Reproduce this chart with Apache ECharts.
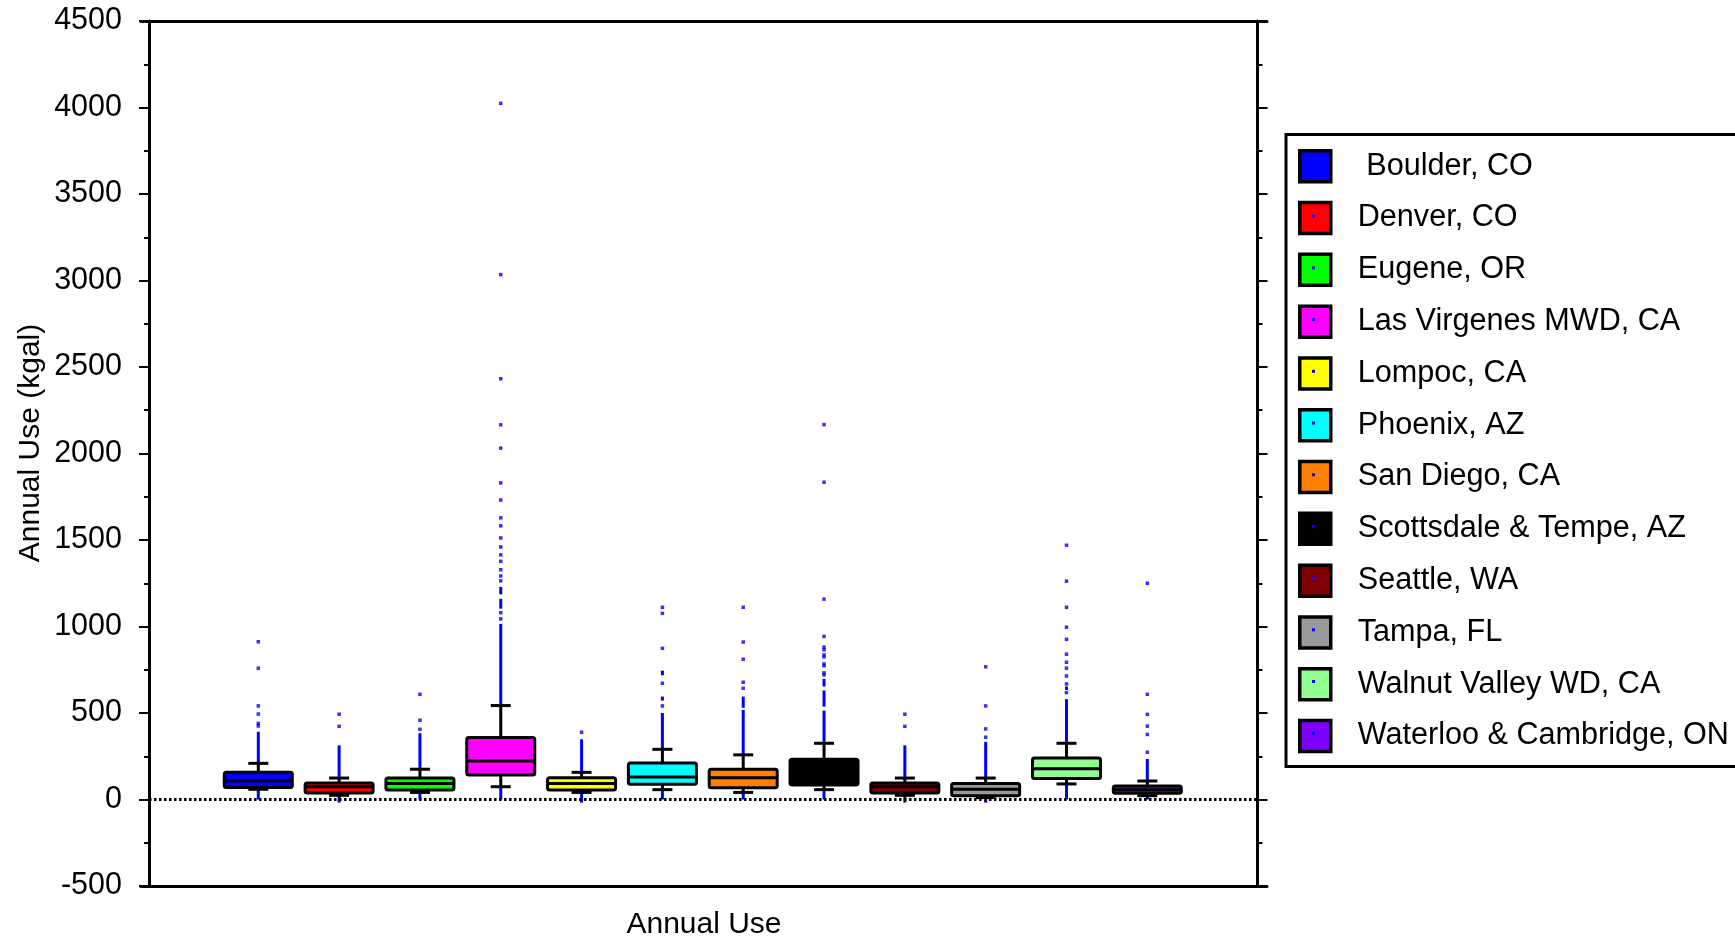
<!DOCTYPE html>
<html>
<head>
<meta charset="utf-8">
<title>Annual Use</title>
<script src="https://cdn.jsdelivr.net/npm/echarts@6/dist/echarts.min.js"></script>
<style>
  html, body { margin: 0; padding: 0; background: #fff; }
  #chart { width: 1735px; height: 941px; }
</style>
</head>
<body>
<div id="chart"></div>
<script>
// cities, in plot order
const cities = [' Boulder, CO', 'Denver, CO', 'Eugene, OR', 'Las Virgenes MWD, CA', 'Lompoc, CA',
  'Phoenix, AZ', 'San Diego, CA', 'Scottsdale & Tempe, AZ', 'Seattle, WA', 'Tampa, FL',
  'Walnut Valley WD, CA', 'Waterloo & Cambridge, ON']

// box statistics (kgal)
const whiskerLow  = [59, 24, 41, 74, 41, 57, 41, 57, 24, 11, 90, 22]
const q1          = [70, 38, 55, 142, 55, 88, 68, 84, 38, 22, 122, 36]
const median      = [109, 74, 92, 223, 92, 130, 126, 148, 74, 59, 178, 57]
const q3          = [157, 95, 124, 358, 126, 211, 175, 233, 95, 92, 240, 78]
const whiskerHigh = [209, 124, 175, 543, 157, 290, 258, 325, 124, 124, 325, 107]

// outliers: single points
const outlierDots = [
  [425, 440, 494, 541, 759, 912],
  [423, 493],
  [406, 458, 608],
  [1044, 1080, 1264, 1292, 1328, 1377, 1414, 1460, 1512, 1582, 1628, 1731, 1830, 2031, 2166, 2432, 3034, 4024],
  [389],
  [541, 672, 874, 1076, 1111],
  [643, 678, 811, 910, 1111],
  [720, 732, 773, 784, 824, 836, 865, 881, 943, 1158, 1834, 2167],
  [423, 493],
  [360, 408, 541, 767],
  [618, 668, 714, 759, 793, 840, 926, 996, 1111, 1262, 1470],
  [273, 376, 424, 492, 608, 1250]
]

// outliers packed so densely they read as a solid run [from, to]
const outlierRuns = [
  [[0, 59], [212, 392]],
  [[-18, 24], [126, 313]],
  [[0, 41], [177, 383]],
  [[0, 74], [545, 1015], [1103, 1160], [1186, 1229]],
  [[-18, 41], [159, 348]],
  [[0, 57], [292, 500], [572, 595], [718, 745]],
  [[0, 41], [260, 518], [530, 595]],
  [[0, 57], [327, 514], [537, 630], [653, 697]],
  [[-18, 24], [126, 313]],
  [[-18, 11], [126, 333]],
  [[0, 90], [327, 580], [633, 653]],
  [[0, 22], [109, 234]]
]

const palette = ['#0000ff', '#ff0000', '#00ff00', '#ff00ff', '#ffff00', '#00ffff',
  '#ff8000', '#000000', '#800000', '#999999', '#90ff90', '#8000ff']

const FONT = "'Liberation Sans', Arial, sans-serif"

const chart = echarts.init(document.getElementById('chart'))

// one box with whiskers, drawn from the value scale
const renderBox = (params, api) => {
  const x = api.value(0)
  const pLow = api.coord([x, api.value(1)])
  const yQ1 = api.coord([x, api.value(2)])[1]
  const yMed = api.coord([x, api.value(3)])[1]
  const yQ3 = api.coord([x, api.value(4)])[1]
  const yHigh = api.coord([x, api.value(5)])[1]
  const cx = pLow[0]
  const yLow = pLow[1]
  const half = 34
  const cap = 10
  const ink = { stroke: '#000', lineWidth: 3 }
  return {
    type: 'group',
    children: [
      { type: 'line', shape: { x1: cx, y1: yLow, x2: cx, y2: yQ1 }, style: ink },
      { type: 'line', shape: { x1: cx, y1: yQ3, x2: cx, y2: yHigh }, style: ink },
      { type: 'line', shape: { x1: cx - cap, y1: yLow, x2: cx + cap, y2: yLow }, style: ink },
      { type: 'line', shape: { x1: cx - cap, y1: yHigh, x2: cx + cap, y2: yHigh }, style: ink },
      {
        type: 'rect',
        shape: { x: cx - half, y: yQ3, width: half * 2, height: yQ1 - yQ3, r: 2 },
        style: { fill: api.visual('color'), stroke: '#000', lineWidth: 3 }
      },
      { type: 'line', shape: { x1: cx - half, y1: yMed, x2: cx + half, y2: yMed }, style: ink }
    ]
  }
}

// dense outlier run as a thin bar
const renderRun = (params, api) => {
  const x = api.value(0)
  const a = api.coord([x, api.value(1)])
  const b = api.coord([x, api.value(2)])
  return {
    type: 'rect',
    shape: { x: a[0] - 1.5, y: b[1], width: 3, height: Math.max(a[1] - b[1], 3) },
    style: { fill: '#0000ff' }
  }
}

const boxSeries = cities.map((name, i) => ({
  name,
  type: 'custom',
  xAxisIndex: 0,
  yAxisIndex: 0,
  z: 5,
  itemStyle: { color: palette[i] },
  renderItem: renderBox,
  data: [[i + 1, whiskerLow[i], q1[i], median[i], q3[i], whiskerHigh[i]]]
}))

const runData = []
outlierRuns.forEach((runs, i) => runs.forEach(r => runData.push([i + 1, r[0], r[1]])))
const dotData = []
outlierDots.forEach((vals, i) => vals.forEach(v => dotData.push([i + 1, v])))

const frameLine = { onZero: false, lineStyle: { color: '#000', width: 3 } }

// legend layout
const LEGEND_TOP = 149
const LEGEND_STEP = 51.7

// the small outlier marker shown inside each legend swatch
const swatchDots = cities.map((c, i) => ({
  type: 'rect',
  shape: { x: 1312, y: LEGEND_TOP + 15.5 - 1.5 + i * LEGEND_STEP, width: 3, height: 3 },
  style: { fill: '#0000ff' },
  z: 100,
  silent: true
}))

const option = {
  backgroundColor: '#fff',
  animation: false,
  grid: { left: 141, top: 21, width: 1126, height: 865, containLabel: false },
  xAxis: [
    { type: 'value', min: -0.4514, max: 13.481, show: false, axisLine: { onZero: false } },
    {
      type: 'category',
      position: 'bottom',
      data: ['Annual Use'],
      axisLine: frameLine,
      axisTick: { alignWithLabel: true, length: 5, lineStyle: { width: 2, color: '#000' } },
      axisLabel: { color: '#000', fontSize: 30, fontFamily: FONT, margin: 24 },
      splitLine: { show: false }
    },
    {
      type: 'category',
      position: 'top',
      data: ['Annual Use'],
      axisLine: frameLine,
      axisTick: { alignWithLabel: true, length: 4, lineStyle: { width: 3, color: '#000' } },
      axisLabel: { show: false },
      splitLine: { show: false }
    }
  ],
  yAxis: [
    {
      type: 'value',
      position: 'left',
      offset: -8,
      min: -500,
      max: 4500,
      interval: 500,
      axisLine: { show: true, onZero: false, lineStyle: { color: '#000', width: 3 } },
      axisTick: { show: true, length: 10, lineStyle: { width: 2, color: '#000' } },
      minorTick: { show: true, splitNumber: 2, length: 5, lineStyle: { width: 2, color: '#000' } },
      axisLabel: { color: '#000', fontSize: 30.5, fontFamily: FONT, margin: 27, formatter: v => String(v) },
      splitLine: { show: false }
    },
    {
      type: 'value',
      position: 'right',
      offset: -9.5,
      min: -500,
      max: 4500,
      interval: 500,
      axisLine: { show: true, onZero: false, lineStyle: { color: '#000', width: 3 } },
      axisTick: { show: true, length: 10, lineStyle: { width: 2, color: '#000' } },
      minorTick: { show: true, splitNumber: 2, length: 5, lineStyle: { width: 2, color: '#000' } },
      axisLabel: { show: false },
      splitLine: { show: false }
    }
  ],
  legend: {
    data: cities,
    orient: 'vertical',
    left: 1298,
    top: LEGEND_TOP,
    padding: 0,
    itemWidth: 31,
    itemHeight: 31,
    itemGap: 17.3,
    icon: 'rect',
    selectedMode: false,
    itemStyle: { borderColor: '#000', borderWidth: 3.5 },
    textStyle: { color: '#000', fontSize: 30.6, fontFamily: FONT, lineHeight: 31, padding: [0, 0, 0, 22] }
  },
  graphic: [
    {
      type: 'rect',
      shape: { x: 1286, y: 134.5, width: 600, height: 632 },
      style: { fill: 'none', stroke: '#000', lineWidth: 3 },
      silent: true
    },
    {
      type: 'text',
      x: 31,
      y: 443,
      rotation: Math.PI / 2,
      style: {
        text: 'Annual Use (kgal)',
        fill: '#000',
        font: '30px ' + FONT,
        align: 'center',
        verticalAlign: 'middle'
      },
      silent: true
    },
    ...swatchDots
  ],
  series: [
    {
      name: 'runs',
      type: 'custom',
      xAxisIndex: 0,
      yAxisIndex: 0,
      z: 3,
      renderItem: renderRun,
      data: runData,
      silent: true
    },
    {
      name: 'outliers',
      type: 'scatter',
      xAxisIndex: 0,
      yAxisIndex: 0,
      z: 3,
      symbol: 'rect',
      symbolSize: 3.5,
      itemStyle: { color: '#0000ff' },
      data: dotData,
      silent: true,
      markLine: {
        silent: true,
        symbol: 'none',
        label: { show: false },
        lineStyle: { color: '#000', width: 3, type: [2.5, 2.5] },
        data: [[{ coord: [-0.352, 0] }, { coord: [13.363, 0] }]]
      }
    },
    ...boxSeries
  ]
}

chart.setOption(option)
window.addEventListener('resize', () => chart.resize())
</script>
</body>
</html>
